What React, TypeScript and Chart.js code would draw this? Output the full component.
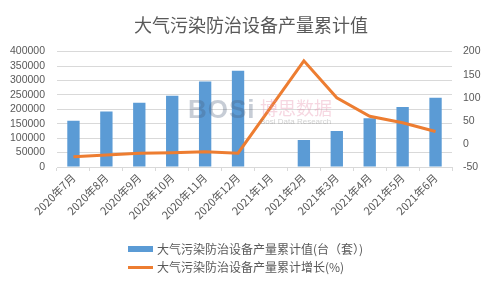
import React, { useEffect, useRef } from "react";
import { Chart, registerables } from "chart.js";

Chart.register(...registerables);

const categories = [
  "2020年7月", "2020年8月", "2020年9月", "2020年10月", "2020年11月", "2020年12月",
  "2021年1月", "2021年2月", "2021年3月", "2021年4月", "2021年5月", "2021年6月",
];
const outputValues = [160000, 192000, 223000, 247000, 296000, 334000, null, 94000, 125000, 169000, 208000, 240000];
const growthValues = [-28, -24, -20, -19, -17, -20, null, 180, 100, 60, 46, 27];
const titleText = "大气污染防治设备产量累计值";
const barLabel = "大气污染防治设备产量累计值(台（套）)";
const lineLabel = "大气污染防治设备产量累计增长(%)";

const FONT = "'Liberation Sans', 'Noto Sans CJK SC', sans-serif";
const CJK = "'Noto Sans CJK SC', 'Liberation Sans', sans-serif";
const TEXT = "#595959";
const GRID = "#D9D9D9";
const BLUE = "#5B9BD5";
const ORANGE = "#ED7D31";

export default function App() {
  const ref = useRef<HTMLCanvasElement | null>(null);

  useEffect(() => {
    if (!ref.current) return;
    const chart = new Chart(ref.current, {
      type: "bar",
      data: {
        labels: categories,
        datasets: [
          {
            type: "line",
            label: lineLabel,
            data: growthValues,
            yAxisID: "y1",
            borderColor: ORANGE,
            backgroundColor: ORANGE,
            borderWidth: 3,
            pointRadius: 0,
            tension: 0,
            spanGaps: true,
            order: 0,
          } as any,
          {
            type: "bar",
            label: barLabel,
            data: outputValues,
            yAxisID: "y",
            backgroundColor: BLUE,
            barPercentage: 0.375,
            categoryPercentage: 1,
            order: 1,
          } as any,
        ],
      },
      options: {
        animation: false,
        responsive: false,
        maintainAspectRatio: false,
        layout: { padding: { left: 10, right: 0, top: 0, bottom: 0 } },
        plugins: {
          legend: { display: false },
          tooltip: { enabled: false },
          title: {
            display: true,
            text: titleText,
            color: TEXT,
            font: { family: CJK, size: 18, weight: "normal" },
            padding: { top: 14, bottom: 16 },
          },
        },
        scales: {
          x: {
            offset: true,
            grid: {
              display: true,
              drawOnChartArea: false,
              drawTicks: true,
              tickLength: 4,
              color: GRID,
              offset: true,
            },
            border: { display: true, color: GRID },
            ticks: {
              color: TEXT,
              font: { family: CJK, size: 11 },
              minRotation: 45,
              maxRotation: 45,
              autoSkip: false,
              padding: 0,
            },
            afterFit: (scale: any) => {
              scale.height = 124;
            },
          },
          y: {
            position: "left",
            min: 0,
            max: 400000,
            ticks: {
              stepSize: 50000,
              autoSkip: false,
              color: TEXT,
              font: { family: FONT, size: 10.5 },
              padding: 12,
              callback: (v: any) => String(v),
            },
            grid: { color: GRID, drawTicks: false },
            border: { display: false },
            afterFit: (scale: any) => {
              scale.width = 47;
            },
          },
          y1: {
            position: "right",
            min: -50,
            max: 200,
            ticks: {
              stepSize: 50,
              autoSkip: false,
              color: TEXT,
              font: { family: FONT, size: 10.5 },
              padding: 11,
              callback: (v: any) => String(v),
            },
            grid: { display: false, drawTicks: false },
            border: { display: false },
            afterFit: (scale: any) => {
              scale.width = 40;
            },
          },
        },
      },
    });
    return () => chart.destroy();
  }, []);

  return (
    <div
      style={{
        position: "fixed",
        left: 0,
        top: 0,
        width: 492,
        height: 291,
        background: "#fff",
        overflow: "hidden",
      }}
    >
      <canvas ref={ref} width={492} height={291} style={{ display: "block" }} />
      {/* watermark */}
      <div
        style={{
          position: "absolute",
          left: 188,
          top: 94,
          fontFamily: "'Liberation Sans', sans-serif",
          fontWeight: "bold",
          fontSize: 26,
          color: "rgba(70,90,120,0.3)",
          letterSpacing: 1,
          lineHeight: "30px",
          pointerEvents: "none",
        }}
      >
        BOSi
      </div>
      <div
        style={{
          position: "absolute",
          left: 260,
          top: 96,
          fontFamily: CJK,
          fontSize: 18,
          color: "rgba(230,140,170,0.35)",
          lineHeight: "22px",
          pointerEvents: "none",
        }}
      >
        博思数据
      </div>
      <div
        style={{
          position: "absolute",
          left: 260,
          top: 117,
          fontFamily: "'Liberation Sans', sans-serif",
          fontSize: 8,
          color: "rgba(120,120,120,0.35)",
          lineHeight: "10px",
          pointerEvents: "none",
        }}
      >
        Bosi Data Research
      </div>
      {/* legend */}
      <div
        style={{
          position: "absolute",
          left: 128,
          top: 240,
          fontFamily: CJK,
          fontSize: 12,
          color: TEXT,
          lineHeight: "18px",
        }}
      >
        <div style={{ display: "flex", alignItems: "center" }}>
          <span style={{ display: "inline-block", width: 25, height: 6, background: BLUE, marginRight: 4 }} />
          <span>{barLabel}</span>
        </div>
        <div style={{ display: "flex", alignItems: "center" }}>
          <span style={{ display: "inline-block", width: 25, height: 3, background: ORANGE, marginRight: 4 }} />
          <span>{lineLabel}</span>
        </div>
      </div>
    </div>
  );
}
